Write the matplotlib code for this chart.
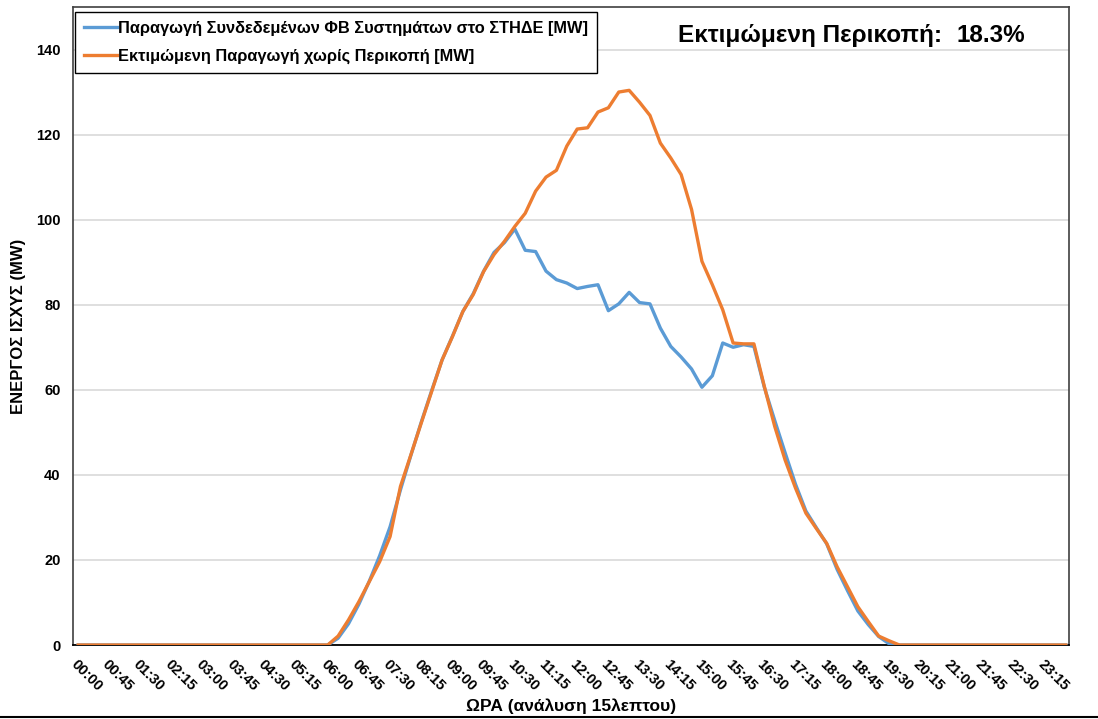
import matplotlib.pyplot as plt
from matplotlib.lines import Line2D
import numpy as np

plt.rcParams['font.family'] = ['Liberation Sans', 'DejaVu Sans']
plt.rcParams['font.weight'] = 'bold'

# 15-minute slots over one day
times = [f"{h:02d}:{m:02d}" for h in range(24) for m in (0, 15, 30, 45)]

# measured PV output of connected systems [MW]
pv_actual = [0] * 25 + [
    1.6, 5.0, 9.6, 15.0, 21.0, 27.8, 36.5, 44.6, 52.4, 59.8,
    67.0, 72.6, 78.4, 82.6, 87.9, 92.3, 94.6, 97.8, 92.8, 92.5,
    87.9, 85.9, 85.1, 83.8, 84.3, 84.7, 78.6, 80.2, 82.9, 80.5,
    80.2, 74.5, 70.2, 67.7, 64.9, 60.6, 63.3, 71.0, 70.0, 70.6,
    70.2, 60.6, 52.8, 45.2, 37.8, 31.5, 27.6, 23.8, 17.8, 12.8,
    8.0, 4.8, 2.0, 0.3,
] + [0] * 17

# estimated output without curtailment [MW]
pv_estimated = [0] * 25 + [
    2.1, 5.9, 10.2, 14.9, 19.6, 25.5, 37.3, 44.7, 52.2, 59.6,
    67.0, 72.5, 78.4, 82.4, 87.8, 91.8, 94.9, 98.4, 101.5, 106.7,
    110.0, 111.6, 117.3, 121.3, 121.6, 125.3, 126.3, 130.0, 130.4, 127.6,
    124.5, 118.0, 114.5, 110.6, 102.4, 90.2, 84.7, 78.8, 71.0, 70.8,
    70.8, 60.8, 51.4, 43.5, 36.9, 31.0, 27.4, 23.9, 18.4, 13.7,
    9.0, 5.5, 2.1, 1.0,
] + [0] * 17

curtailment_text = "18.3%"

x = np.arange(len(times))

fig = plt.figure(figsize=(10.98, 7.19), dpi=100)
ax = fig.add_axes([0.0665, 0.1029, 0.907, 0.8874])

ax.plot(x, pv_actual, color='#5B9BD5', linewidth=2.4,
        label='Παραγωγή Συνδεδεμένων ΦΒ Συστημάτων στο ΣΤΗΔΕ [MW]', zorder=3)
ax.plot(x, pv_estimated, color='#ED7D31', linewidth=2.4,
        label='Εκτιμώμενη Παραγωγή χωρίς Περικοπή [MW]', zorder=4)

ax.set_xlim(-0.5, 95.3)
ax.set_ylim(0, 150)
ax.set_yticks(np.arange(0, 141, 20))
ax.set_xticks(x[::3])
ax.set_xticklabels(times[::3], rotation=-45, ha='left', va='top',
                   rotation_mode='anchor', fontsize=10.5, fontweight='bold')
ax.tick_params(axis='x', length=0, pad=9)
ax.tick_params(axis='y', length=0, pad=9, labelsize=10.5)
for lbl in ax.get_yticklabels():
    lbl.set_fontweight('bold')

ax.grid(axis='y', color='#d9d9d9', linewidth=1.2)
ax.set_axisbelow(True)
for side in ('top', 'right', 'left'):
    ax.spines[side].set_color('#404040')
    ax.spines[side].set_linewidth(1.2)
ax.spines['bottom'].set_color('black')
ax.spines['bottom'].set_linewidth(1.3)

ax.set_ylabel('ΕΝΕΡΓΟΣ ΙΣΧΥΣ (MW)', fontsize=12, fontweight='bold')
ax.yaxis.set_label_coords(-0.047, 0.5)
ax.set_xlabel('ΩΡΑ (ανάλυση 15λεπτου)', fontsize=12.5, fontweight='bold')
ax.xaxis.set_label_coords(0.5, -0.084)

leg = ax.legend(loc='upper left', bbox_to_anchor=(0.002, 0.992), fancybox=False,
                framealpha=1, edgecolor='black', handlelength=2.0,
                handletextpad=0.05, borderpad=0.55, labelspacing=0.75,
                borderaxespad=0.0, prop={'weight': 'bold', 'size': 11.8})
leg.get_frame().set_linewidth(1.0)

ax.text(0.607, 0.955, 'Εκτιμώμενη Περικοπή:', transform=ax.transAxes,
        fontsize=17.5, fontweight='bold', va='center', ha='left')
ax.text(0.887, 0.955, curtailment_text, transform=ax.transAxes,
        fontsize=17.5, fontweight='bold', va='center', ha='left')

# chart area border at the bottom edge
fig.add_artist(Line2D([0, 1], [0.003, 0.003], transform=fig.transFigure,
                      color='black', linewidth=1.5))

fig.savefig('out.png', dpi=100)
